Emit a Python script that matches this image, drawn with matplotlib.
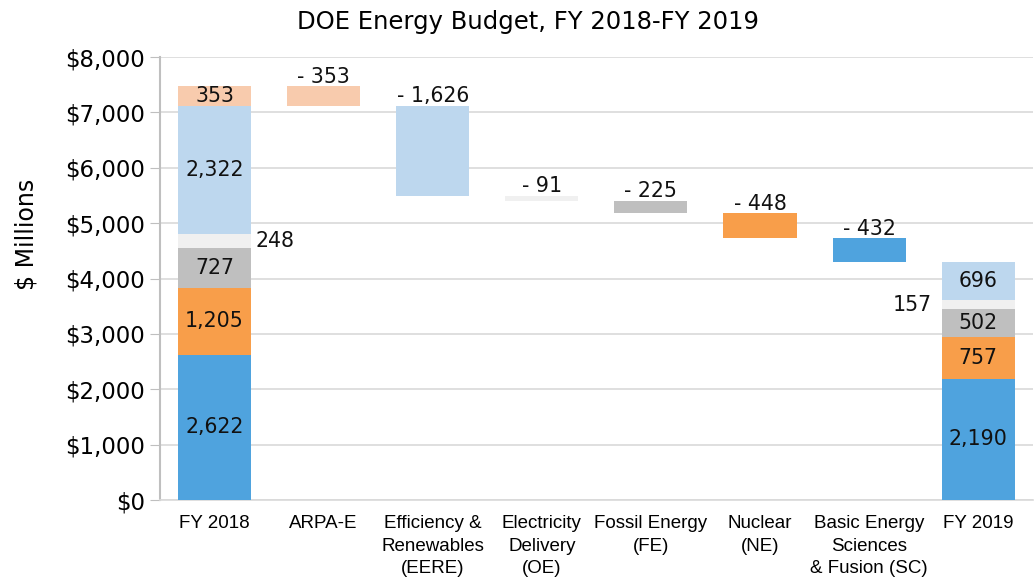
import matplotlib
matplotlib.use('Agg')
import matplotlib.pyplot as plt
from matplotlib.ticker import FuncFormatter

# data ($ millions)
categories = ['FY 2018', 'ARPA-E', 'Efficiency &\nRenewables\n(EERE)', 'Electricity\nDelivery\n(OE)',
              'Fossil Energy\n(FE)', 'Nuclear\n(NE)', 'Basic Energy\nSciences\n& Fusion (SC)', 'FY 2019']
programs = ['SC', 'NE', 'FE', 'OE', 'EERE', 'ARPA-E']
fy2018 = [2622, 1205, 727, 248, 2322, 353]
fy2019 = [2190, 757, 502, 157, 696, 0]
# decreases in waterfall order: ARPA-E, EERE, OE, FE, NE, SC
decreases = [353, 1626, 91, 225, 448, 432]
dec_colors_idx = [5, 4, 3, 2, 1, 0]

colors = ['#4FA3DE', '#F89E4A', '#BFBFBF', '#F0F0F0', '#BDD7EE', '#F8CBAD']

plt.rcParams['font.family'] = ['DejaVu Sans']

fig = plt.figure(figsize=(10.36, 5.79), dpi=100)
ax = fig.add_axes([0.1544, 0.1364, 0.8425, 0.765])

w = 0.67
x = list(range(len(categories)))
fs = 14.8

# FY 2018 stacked
bottom = 0
for v, c in zip(fy2018, colors):
    ax.bar(x[0], v, w, bottom=bottom, color=c, zorder=3)
    bottom += v
total = bottom

# waterfall decreases
level = total
for i, (d, ci) in enumerate(zip(decreases, dec_colors_idx)):
    level -= d
    ax.bar(x[i + 1], d, w, bottom=level, color=colors[ci], zorder=3)
    ax.text(x[i + 1], level + d + 60, f'- {d:,}', ha='center', va='baseline', fontsize=fs, color='#111111')

# FY 2019 stacked
bottom = 0
for v, c in zip(fy2019, colors):
    if v:
        ax.bar(x[-1], v, w, bottom=bottom, color=c, zorder=3)
    bottom += v

# segment labels
def seg_labels(xi, vals, outside_idx, side, gap):
    b = 0
    for k, v in enumerate(vals):
        if v == 0:
            continue
        if k == outside_idx:
            xo = xi + side * (w / 2 + gap)
            ax.text(xo, b + v / 2, f'{v:,}', ha='left' if side > 0 else 'right',
                    va='center', fontsize=fs, color='#111111')
        else:
            ax.text(xi, b + v / 2, f'{v:,}', ha='center', va='center', fontsize=fs, color='#111111', zorder=4)
        b += v

seg_labels(x[0], fy2018, 3, 1, 0.045)
seg_labels(x[-1], fy2019, 3, -1, 0.09)

ax.set_xlim(-0.5, len(categories) - 0.5)
ax.set_ylim(0, 8000)
ax.set_yticks(range(0, 8001, 1000))
ax.yaxis.set_major_formatter(FuncFormatter(lambda v, p: f'${v:,.0f}'))
ax.tick_params(axis='y', labelsize=16.5, length=7, color='#BFBFBF', pad=4)
ax.tick_params(axis='x', length=0, pad=11)
ax.set_xticks(x)
ax.set_xticklabels(categories, linespacing=1.42, va='top',
                   family=['Liberation Sans'], fontsize=13.5)

ax.grid(axis='y', color='#D9D9D9', linewidth=1.2, zorder=0)
for s in ['top', 'right']:
    ax.spines[s].set_visible(False)
ax.spines['left'].set_color('#BFBFBF')
ax.spines['left'].set_linewidth(1.5)
ax.spines['bottom'].set_color('#D9D9D9')
ax.spines['bottom'].set_linewidth(1.2)

ax.set_ylabel('$ Millions', fontsize=17)
ax.yaxis.set_label_coords(-0.139, 0.599)
fig.text(0.510, 0.962, 'DOE Energy Budget, FY 2018-FY 2019', ha='center', va='center', fontsize=17.5)

plt.savefig('out.png', dpi=100)
